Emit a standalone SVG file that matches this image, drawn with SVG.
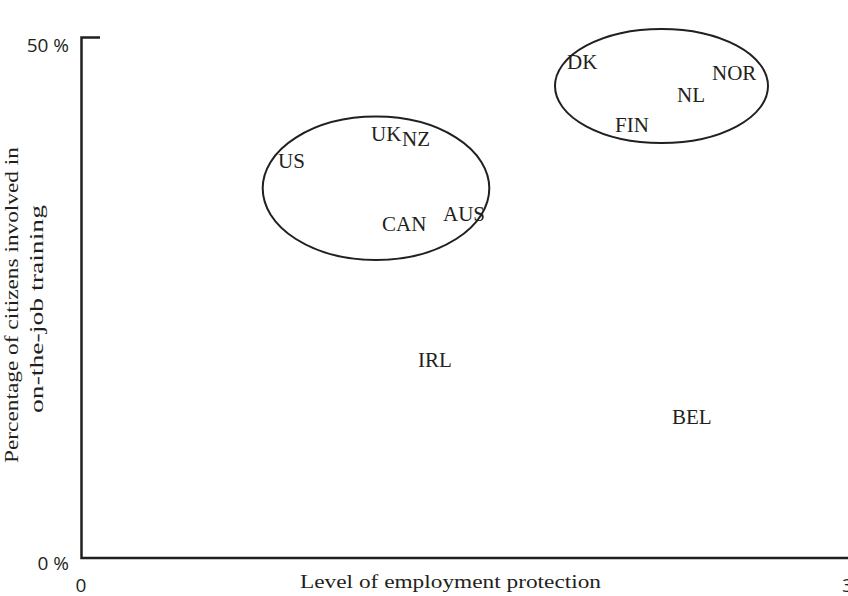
<svg xmlns="http://www.w3.org/2000/svg" width="848" height="596" viewBox="0 0 848 596">
<style>
.axis{fill:none;stroke:#231f20;stroke-width:2.5}
.ell{fill:none;stroke:#231f20;stroke-width:2}
.tick{font-family:"Open Sans","Liberation Sans",sans-serif;font-size:19px;fill:#231f20}
.lbl{font-family:"Liberation Serif","DejaVu Serif",serif;font-size:21px;fill:#231f20}
.ttl{font-family:"Liberation Serif","DejaVu Serif",serif;font-size:19.5px;fill:#231f20;text-anchor:middle}
</style>
<rect width="848" height="596" fill="#fff"/>
<g id="connectors">
<path class="axis" d="M100,37.5 H81.5 V558 H848"/>
</g>
<g id="axis-labels">
<text class="tick" x="69" y="52" text-anchor="end">50 %</text>
<text class="tick" x="69" y="570" text-anchor="end">0 %</text>
<text class="tick" x="81" y="592" text-anchor="middle">0</text>
<text class="tick" x="842" y="592">3</text>
<text class="ttl" x="450.5" y="588" textLength="301" lengthAdjust="spacingAndGlyphs">Level of employment protection</text>
<text class="ttl" transform="translate(17.5,305) rotate(-90)" x="0" y="0" textLength="316" lengthAdjust="spacingAndGlyphs">Percentage of citizens involved in</text>
<text class="ttl" transform="translate(43,309) rotate(-90)" x="0" y="0" textLength="208" lengthAdjust="spacingAndGlyphs">on-the-job training</text>
</g>
<g id="cluster-liberal"><ellipse class="ell" cx="376" cy="188.3" rx="113.3" ry="71.7"/></g>
<g id="cluster-nordic"><ellipse class="ell" cx="661.5" cy="86" rx="106.5" ry="57"/></g>
<g id="node-US"><text class="lbl" x="278" y="168">US</text></g>
<g id="node-UK"><text class="lbl" x="371" y="141">UK</text></g>
<g id="node-NZ"><text class="lbl" x="402" y="146">NZ</text></g>
<g id="node-CAN"><text class="lbl" x="382" y="230.5">CAN</text></g>
<g id="node-AUS"><text class="lbl" x="443" y="220.5">AUS</text></g>
<g id="node-DK"><text class="lbl" x="567" y="68.5">DK</text></g>
<g id="node-NOR"><text class="lbl" x="712" y="80">NOR</text></g>
<g id="node-NL"><text class="lbl" x="677" y="101.5">NL</text></g>
<g id="node-FIN"><text class="lbl" x="615" y="131.5">FIN</text></g>
<g id="node-IRL"><text class="lbl" x="418" y="367">IRL</text></g>
<g id="node-BEL"><text class="lbl" x="672" y="424">BEL</text></g>
</svg>
